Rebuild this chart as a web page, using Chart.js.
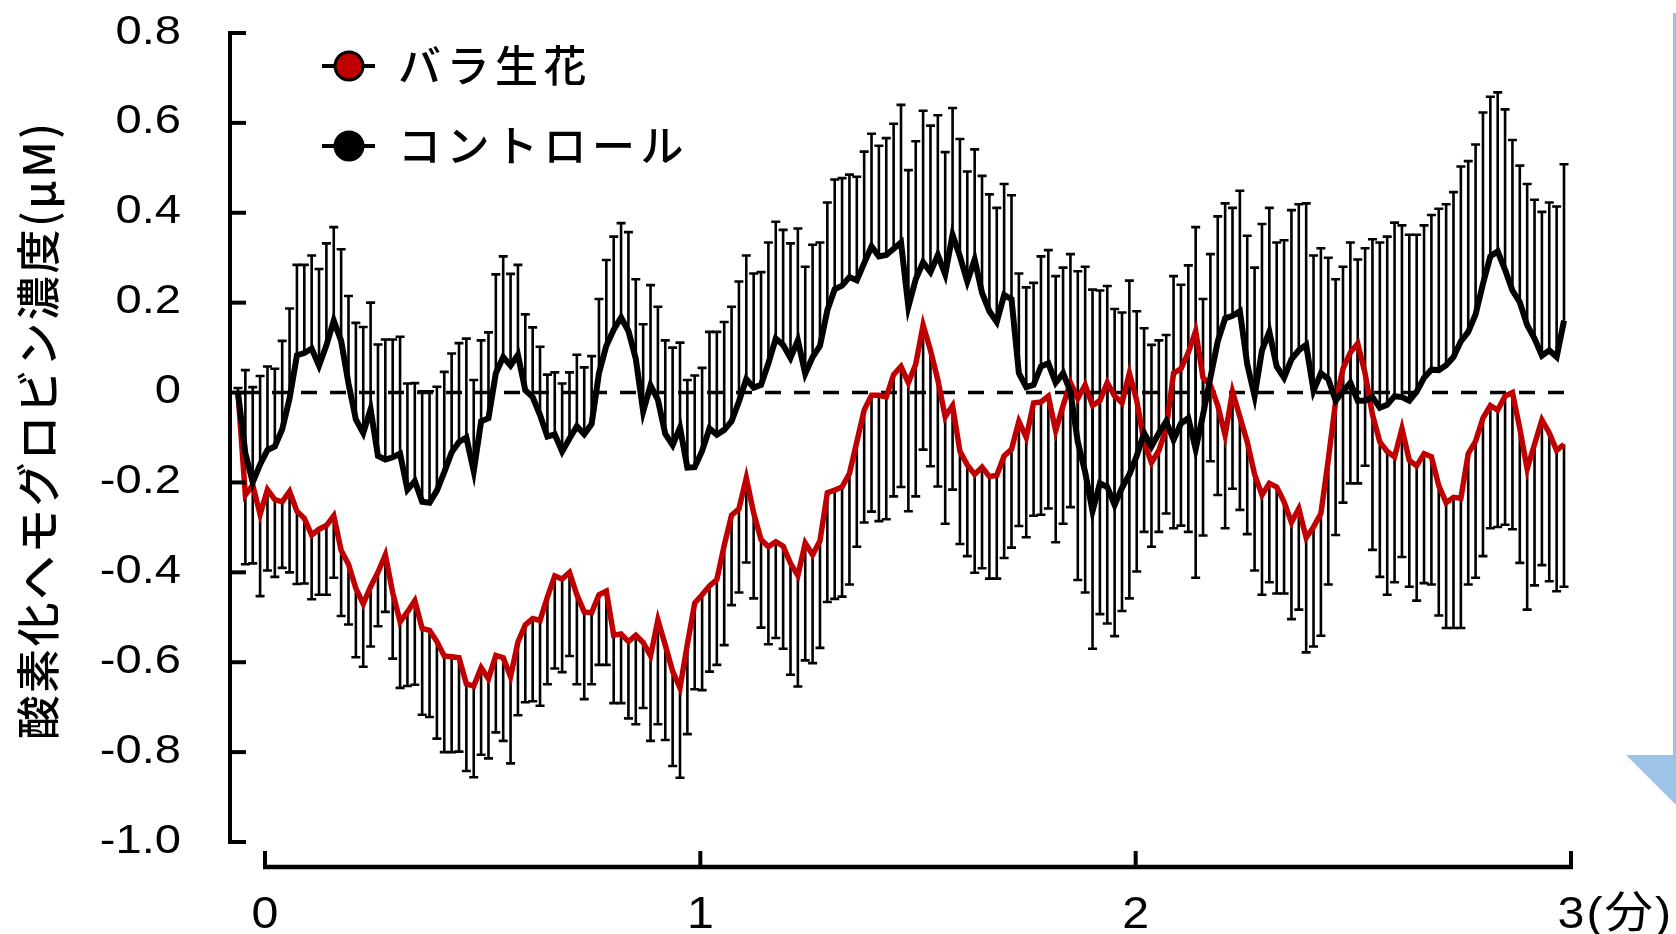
<!DOCTYPE html>
<html>
<head>
<meta charset="utf-8">
<script src="https://cdn.jsdelivr.net/npm/chart.js@4/dist/chart.umd.min.js"></script>
<style>
  html, body { margin: 0; padding: 0; background: #ffffff; }
  canvas { display: block; }
</style>
</head>
<body>
<canvas id="chart" width="1676" height="934"></canvas>
<script>
// Sampling times in seconds (one sample per second over three minutes)
const seconds = Array.from({ length: 181 }, (_, i) => i);

// Rose flowers: mean change and lower bound (mean − SEM)
const roseMean = [
  0, -0.228, -0.206, -0.271, -0.216, -0.238, -0.243, -0.22, -0.264, -0.28,
  -0.317, -0.304, -0.296, -0.274, -0.351, -0.382, -0.436, -0.47, -0.432, -0.40,
  -0.361, -0.445, -0.51, -0.488, -0.463, -0.525, -0.529, -0.554, -0.586, -0.588,
  -0.59, -0.648, -0.653, -0.612, -0.637, -0.585, -0.59, -0.632, -0.555, -0.517,
  -0.503, -0.507, -0.455, -0.408, -0.415, -0.40, -0.45, -0.488, -0.49, -0.45,
  -0.442, -0.54, -0.537, -0.554, -0.54, -0.556, -0.586, -0.506, -0.562, -0.62,
  -0.657, -0.56, -0.468, -0.45, -0.43, -0.416, -0.34, -0.273, -0.259, -0.19,
  -0.268, -0.327, -0.343, -0.332, -0.342, -0.38, -0.407, -0.335, -0.361, -0.33,
  -0.223, -0.217, -0.21, -0.18, -0.11, -0.039, -0.006, -0.006, -0.01, 0.04,
  0.058, 0.022, 0.063, 0.15, 0.094, 0.028, -0.054, -0.029, -0.131, -0.161,
  -0.182, -0.166, -0.187, -0.184, -0.141, -0.126, -0.064, -0.1, -0.023, -0.021,
  -0.008, -0.085, -0.029, 0.022, -0.013, 0.017, -0.029, -0.018, 0.022, -0.008,
  -0.023, 0.043, -0.018, -0.11, -0.156, -0.129, -0.08, 0.043, 0.053, 0.089,
  0.137, 0.033, 0.017, -0.029, -0.095, 0.002, -0.054, -0.11, -0.182, -0.228,
  -0.202, -0.21, -0.243, -0.289, -0.258, -0.323, -0.299, -0.269, -0.15, -0.02,
  0.053, 0.089, 0.109, 0.043, -0.049, -0.11, -0.131, -0.143, -0.08, -0.151,
  -0.163, -0.136, -0.143, -0.207, -0.245, -0.233, -0.235, -0.136, -0.108, -0.057,
  -0.029, -0.039, -0.008, 0.0, -0.08, -0.17, -0.115, -0.061, -0.09, -0.129,
  -0.115
];
const roseLower = [
  0, -0.382, -0.38, -0.453, -0.396, -0.41, -0.39, -0.40, -0.426, -0.425,
  -0.46, -0.45, -0.45, -0.412, -0.497, -0.516, -0.589, -0.61, -0.565, -0.52,
  -0.488, -0.592, -0.657, -0.653, -0.65, -0.717, -0.722, -0.77, -0.80, -0.80,
  -0.799, -0.842, -0.856, -0.806, -0.814, -0.756, -0.775, -0.825, -0.718, -0.689,
  -0.687, -0.697, -0.649, -0.614, -0.622, -0.586, -0.649, -0.682, -0.649, -0.606,
  -0.606, -0.691, -0.691, -0.725, -0.738, -0.702, -0.775, -0.738, -0.773, -0.831,
  -0.857, -0.76, -0.66, -0.662, -0.621, -0.606, -0.562, -0.473, -0.445, -0.378,
  -0.458, -0.523, -0.56, -0.546, -0.57, -0.628, -0.654, -0.596, -0.602, -0.568,
  -0.466, -0.459, -0.454, -0.427, -0.343, -0.289, -0.265, -0.286, -0.282, -0.231,
  -0.21, -0.264, -0.231, -0.127, -0.164, -0.209, -0.292, -0.216, -0.337, -0.364,
  -0.401, -0.391, -0.414, -0.414, -0.368, -0.345, -0.297, -0.322, -0.274, -0.272,
  -0.258, -0.333, -0.292, -0.255, -0.417, -0.445, -0.57, -0.493, -0.514, -0.542,
  -0.486, -0.458, -0.398, -0.31, -0.343, -0.31, -0.269, -0.302, -0.296, -0.31,
  -0.412, -0.318, -0.153, -0.228, -0.302, -0.214, -0.261, -0.315, -0.396, -0.45,
  -0.422, -0.447, -0.447, -0.504, -0.483, -0.578, -0.565, -0.541, -0.427, -0.317,
  -0.245, -0.202, -0.202, -0.163, -0.35, -0.41, -0.45, -0.422, -0.366, -0.432,
  -0.463, -0.424, -0.427, -0.496, -0.524, -0.524, -0.524, -0.427, -0.412, -0.364,
  -0.302, -0.299, -0.294, -0.304, -0.379, -0.483, -0.429, -0.384, -0.42, -0.442,
  -0.432
];

// Control: mean change and upper bound (mean + SEM)
const controlMean = [
  0, -0.135, -0.20, -0.16, -0.128, -0.12, -0.082, -0.013, 0.083, 0.088,
  0.098, 0.06, 0.105, 0.16, 0.115, 0.02, -0.06, -0.09, -0.037, -0.141,
  -0.149, -0.144, -0.136, -0.216, -0.197, -0.243, -0.245, -0.218, -0.177, -0.133,
  -0.11, -0.1, -0.175, -0.064, -0.057, 0.043, 0.079, 0.06, 0.084, 0.005,
  -0.01, -0.05, -0.098, -0.093, -0.131, -0.102, -0.075, -0.093, -0.07, 0.043,
  0.104, 0.14, 0.167, 0.137, 0.075, -0.042, 0.016, -0.016, -0.092, -0.117,
  -0.078, -0.167, -0.166, -0.13, -0.08, -0.094, -0.083, -0.064, -0.02, 0.03,
  0.011, 0.017, 0.065, 0.12, 0.106, 0.077, 0.116, 0.042, 0.079, 0.104,
  0.183, 0.23, 0.238, 0.257, 0.25, 0.288, 0.325, 0.303, 0.306, 0.32,
  0.334, 0.191, 0.252, 0.29, 0.268, 0.306, 0.263, 0.351, 0.303, 0.247,
  0.296, 0.222, 0.181, 0.157, 0.217, 0.208, 0.043, 0.012, 0.017, 0.058,
  0.065, 0.022, 0.043, 0.002, -0.11, -0.177, -0.264, -0.202, -0.21, -0.25,
  -0.212, -0.182, -0.141, -0.09, -0.12, -0.09, -0.064, -0.105, -0.069, -0.057,
  -0.126, -0.049, 0.033, 0.114, 0.165, 0.171, 0.181, 0.063, -0.008, 0.094,
  0.135, 0.058, 0.033, 0.074, 0.094, 0.106, 0.004, 0.043, 0.03, -0.018,
  0.002, 0.022, -0.018, -0.018, -0.01, -0.034, -0.027, -0.008, -0.01, -0.018,
  0.002, 0.033, 0.051, 0.05, 0.061, 0.079, 0.114, 0.135, 0.174, 0.242,
  0.303, 0.314, 0.273, 0.227, 0.201, 0.15, 0.12, 0.082, 0.094, 0.079,
  0.16
];
const controlUpper = [
  0.01, 0.05, 0.012, 0.037, 0.058, 0.053, 0.115, 0.187, 0.284, 0.284,
  0.305, 0.275, 0.332, 0.368, 0.319, 0.215, 0.155, 0.146, 0.2, 0.107,
  0.118, 0.118, 0.124, 0.02, 0.021, 0.003, 0.003, 0.013, 0.046, 0.087,
  0.11, 0.12, 0.028, 0.116, 0.134, 0.263, 0.303, 0.264, 0.284, 0.174,
  0.145, 0.102, 0.04, 0.045, 0.02, 0.045, 0.084, 0.056, 0.081, 0.208,
  0.295, 0.347, 0.377, 0.357, 0.252, 0.152, 0.239, 0.191, 0.116, 0.1,
  0.111, 0.028, 0.038, 0.055, 0.135, 0.135, 0.157, 0.191, 0.247, 0.305,
  0.265, 0.268, 0.334, 0.38, 0.362, 0.332, 0.365, 0.28, 0.329, 0.334,
  0.423, 0.474, 0.477, 0.485, 0.48, 0.536, 0.576, 0.549, 0.566, 0.598,
  0.64, 0.495, 0.559, 0.627, 0.594, 0.617, 0.535, 0.633, 0.564, 0.492,
  0.541, 0.482, 0.441, 0.411, 0.464, 0.439, 0.265, 0.234, 0.244, 0.303,
  0.317, 0.259, 0.278, 0.308, 0.27, 0.28, 0.229, 0.227, 0.237, 0.186,
  0.178, 0.249, 0.181, 0.143, 0.106, 0.116, 0.128, 0.259, 0.24, 0.283,
  0.368, 0.208, 0.308, 0.392, 0.421, 0.411, 0.449, 0.349, 0.278, 0.375,
  0.411, 0.334, 0.339, 0.406, 0.419, 0.421, 0.305, 0.321, 0.3, 0.252,
  0.28, 0.334, 0.296, 0.321, 0.341, 0.334, 0.347, 0.378, 0.372, 0.351,
  0.351, 0.372, 0.395, 0.409, 0.419, 0.446, 0.503, 0.515, 0.552, 0.623,
  0.658, 0.668, 0.63, 0.562, 0.505, 0.464, 0.429, 0.402, 0.423, 0.414,
  0.508
];

// Axis ticks and texts
const yTicks = [0.8, 0.6, 0.4, 0.2, 0, -0.2, -0.4, -0.6, -0.8, -1.0];
const yTickLabels = ['0.8', '0.6', '0.4', '0.2', '0', '-0.2', '-0.4', '-0.6', '-0.8', '-1.0'];
const xTicks = [0, 1, 2, 3];
const xTickLabels = ['0', '1', '2', '3(分)'];
const seriesNames = ['バラ生花', 'コントロール'];
const seriesColors = ['#C00000', '#000000'];
const yTitle = '酸素化ヘモグロビン濃度(μM)';

const LATIN = '"Liberation Sans", Arial, "Noto Sans CJK JP", sans-serif';
const CJK = '"Noto Sans CJK JP", "Noto Sans CJK SC", sans-serif';

function drawText(ctx, str, x, y, o) {
  ctx.save();
  ctx.font = o.font;
  ctx.fillStyle = o.color || '#000';
  ctx.textAlign = o.align || 'left';
  ctx.textBaseline = o.baseline || 'alphabetic';
  if ('letterSpacing' in ctx) ctx.letterSpacing = (o.ls || 0) + 'px';
  ctx.translate(x, y);
  if (o.rot) ctx.rotate(o.rot);
  ctx.scale(o.sx || 1, 1);
  ctx.fillText(str, 0, 0);
  ctx.restore();
}

// Error bars (black, one-sided) and the dashed zero reference line
const errorBarsAndZero = {
  id: 'errorBarsAndZero',
  beforeDatasetsDraw(chart) {
    const { ctx, scales } = chart;
    const X = scales.x, Y = scales.y;
    ctx.save();
    ctx.strokeStyle = '#000';
    ctx.lineWidth = 2.6;
    ctx.lineCap = 'butt';
    const cap = 4.5;
    const bar = (x, y0, y1) => {
      ctx.beginPath();
      ctx.moveTo(x, y0); ctx.lineTo(x, y1);
      ctx.moveTo(x - cap, y1); ctx.lineTo(x + cap, y1);
      ctx.stroke();
    };
    seconds.forEach((s, i) => {
      const x = X.getPixelForValue(s);
      bar(x, Y.getPixelForValue(roseMean[i]), Y.getPixelForValue(roseLower[i]));
      bar(x, Y.getPixelForValue(controlMean[i]), Y.getPixelForValue(controlUpper[i]));
    });
    // zero line
    const y0 = Y.getPixelForValue(0);
    ctx.lineWidth = 3.6;
    ctx.setLineDash([16, 13]);
    ctx.lineDashOffset = 24;
    ctx.beginPath();
    ctx.moveTo(X.getPixelForValue(seconds[0]), y0);
    ctx.lineTo(X.getPixelForValue(seconds[seconds.length - 1]), y0);
    ctx.stroke();
    ctx.restore();
  }
};

// Axes, tick labels, axis title, legend and the slide arrow
const frame = {
  id: 'frame',
  afterDraw(chart) {
    const { ctx, scales, chartArea } = chart;
    const Y = scales.y, XM = scales.xMin;
    ctx.save();
    ctx.strokeStyle = '#000';
    ctx.lineCap = 'butt';

    // y axis line with inward ticks
    const ax = chartArea.left;
    ctx.lineWidth = 4;
    ctx.beginPath();
    ctx.moveTo(ax, Y.getPixelForValue(yTicks[0]) - 2);
    ctx.lineTo(ax, Y.getPixelForValue(yTicks[yTicks.length - 1]) + 2);
    ctx.stroke();
    yTicks.forEach((v, i) => {
      const y = Y.getPixelForValue(v);
      ctx.beginPath();
      ctx.moveTo(ax, y); ctx.lineTo(ax + 16, y);
      ctx.stroke();
      drawText(ctx, yTickLabels[i], 181, y + 10.5, { font: '41px ' + LATIN, align: 'right', sx: 1.15 });
    });

    // detached x axis with upward ticks
    const xy = 867;
    ctx.lineWidth = 4.5;
    ctx.beginPath();
    ctx.moveTo(XM.getPixelForValue(xTicks[0]) - 2, xy);
    ctx.lineTo(XM.getPixelForValue(xTicks[xTicks.length - 1]) + 2, xy);
    ctx.stroke();
    ctx.lineWidth = 4;
    xTicks.forEach((v, i) => {
      const x = XM.getPixelForValue(v);
      ctx.beginPath();
      ctx.moveTo(x, xy); ctx.lineTo(x, xy - 16);
      ctx.stroke();
      const label = xTickLabels[i];
      if (i === xTicks.length - 1) {
        ctx.font = '44px ' + LATIN;
        const half = ctx.measureText(label.charAt(0)).width * 1.1 / 2;
        drawText(ctx, label, x - half, 928, { font: '44px ' + LATIN, align: 'left', sx: 1.1, ls: 1.8 });
      } else {
        drawText(ctx, label, x, 928, { font: '44px ' + LATIN, align: 'center', sx: 1.1 });
      }
    });

    // rotated y axis title
    drawText(ctx, yTitle, 38, 430, { font: '500 44px ' + CJK, align: 'center', baseline: 'middle', rot: -Math.PI / 2, ls: 2.6 });

    // legend
    const rows = [66, 146];
    seriesNames.forEach((name, i) => {
      const y = rows[i];
      ctx.lineWidth = 4;
      ctx.strokeStyle = '#000';
      ctx.beginPath();
      ctx.moveTo(322, y); ctx.lineTo(375, y);
      ctx.stroke();
      ctx.beginPath();
      ctx.arc(349, y, 14, 0, Math.PI * 2);
      ctx.fillStyle = seriesColors[i];
      ctx.fill();
      ctx.lineWidth = 3;
      ctx.stroke();
      drawText(ctx, name, 398, y, { font: '500 43px ' + CJK, baseline: 'middle', ls: 5.5 });
    });

    // light blue arrow at the right edge
    ctx.fillStyle = '#9DC3E6';
    ctx.fillRect(1673, 13, 3, 742);
    ctx.beginPath();
    ctx.moveTo(1626, 755); ctx.lineTo(1676, 755); ctx.lineTo(1676, 805);
    ctx.closePath();
    ctx.fill();
    ctx.restore();
  }
};

const toPoints = (arr) => seconds.map((s, i) => ({ x: s, y: arr[i] }));

new Chart(document.getElementById('chart').getContext('2d'), {
  type: 'line',
  data: {
    datasets: [
      {
        label: seriesNames[1],
        data: toPoints(controlMean),
        borderColor: seriesColors[1],
        borderWidth: 6,
        pointRadius: 0,
        tension: 0,
        order: 0
      },
      {
        label: seriesNames[0],
        data: toPoints(roseMean),
        borderColor: seriesColors[0],
        borderWidth: 5.5,
        pointRadius: 0,
        tension: 0,
        order: 1
      }
    ]
  },
  options: {
    responsive: false,
    animation: false,
    devicePixelRatio: 1,
    layout: { padding: { left: 230, right: 105, top: 33, bottom: 92 } },
    scales: {
      x: { type: 'linear', min: -1.086, max: 180.95, display: false },
      xMin: { type: 'linear', axis: 'x', min: -0.0804, max: 3, display: false },
      y: { type: 'linear', min: -1.0, max: 0.8, display: false }
    },
    plugins: { legend: { display: false }, tooltip: { enabled: false } }
  },
  plugins: [errorBarsAndZero, frame]
});
</script>
</body>
</html>
